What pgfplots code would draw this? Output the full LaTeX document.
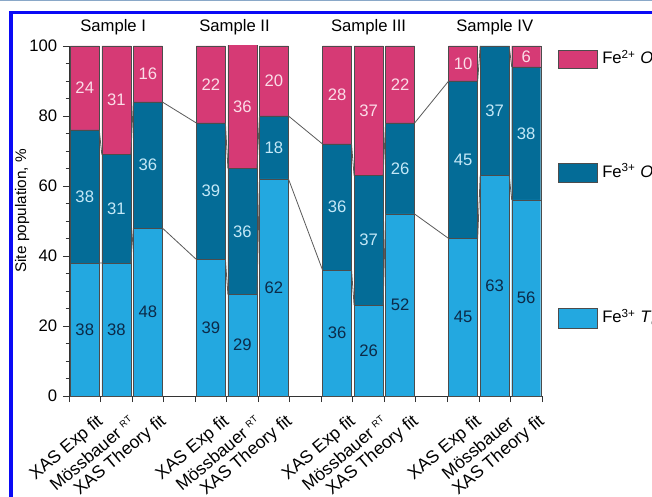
\documentclass[border=0pt]{standalone}
\usepackage{pgfplots}
\pgfplotsset{compat=1.18}
\usepackage{pgfplotstable}
\usepackage{fontspec}
\setmainfont{Liberation Sans}

\definecolor{feII}{HTML}{D63A75}
\definecolor{feIIIoh}{HTML}{046C97}
\definecolor{feIIItd}{HTML}{23A8E0}
\definecolor{labII}{HTML}{FBDDE8}
\definecolor{labIIIoh}{HTML}{C4E8F7}
\definecolor{labIIItd}{HTML}{0C2A48}
\definecolor{frameblue}{HTML}{0A0AF5}
\definecolor{topline}{HTML}{8AA8C8}

\newcommand{\rt}{\textsuperscript{\fontsize{7}{8}\selectfont RT}}

% site populations (%): tetrahedral Fe3+, octahedral Fe3+, octahedral Fe2+
\pgfplotstableread{
x  td oh fe
0  38 38 24
1  38 31 31
2  48 36 16
4  39 39 22
5  29 36 36
6  62 18 20
8  36 36 28
9  26 37 37
10 52 26 22
12 45 45 10
13 63 37 0
14 56 38 6
}\sites

\pgfplotsset{
  /pgf/number format/assume math mode=true,
  site axis/.style={
    scale only axis, width=354.75pt, height=262.5pt,
    at={(51.75pt,75pt)}, anchor=south west,
    xmin=-0.5, xmax=14.5, ymin=0, ymax=100,
  },
  seg/.style={draw=black!70, line width=0.3pt},
  conn/.style={black!65, line width=0.6pt, unbounded coords=jump},
  val/.style={draw=none, mark=none, point meta=explicit, nodes near coords,
    every node near coord/.append style={anchor=center, inner sep=0pt, text=#1}},
}

\begin{document}
\fontsize{12.5}{15}\selectfont
\begin{tikzpicture}
\useasboundingbox (0,0) rectangle (489pt,372pt);

\begin{axis}[site axis,
  ybar stacked, bar width=0.92,
  axis lines=left, axis line style={-, black!80, line width=0.6pt},
  tick align=outside,
  major tick length=4.5pt, minor tick length=2.5pt,
  tick style={black!80, line width=0.6pt},
  ytick={0,20,...,100}, minor y tick num=3,
  xtick={-0.5,0.5,...,14.5}, xticklabels={},
  extra x ticks={0,1,2,4,5,6,8,9,10,12,13,14},
  extra x tick labels={XAS Exp fit, Mössbauer~\rt, XAS Theory fit,
                       XAS Exp fit, Mössbauer~\rt, XAS Theory fit,
                       XAS Exp fit, Mössbauer~\rt, XAS Theory fit,
                       XAS Exp fit, Mössbauer, XAS Theory fit},
  extra x tick style={major tick length=0pt},
  % shifts first, so that they act in the page frame, then the rotation
  xticklabel style={anchor=east, inner sep=0pt, xshift=12.2pt, yshift=-17.5pt, rotate=40,
    font=\fontsize{13.2}{16}\selectfont},
  ylabel={Site population, \%},
  every axis y label/.style={at={(rel axis cs:-0.099,0.529)}, rotate=90, anchor=center,
    font=\fontsize{11.5}{14}\selectfont},
]
\addplot[seg, fill=feIIItd] table[x=x, y=td] {\sites};
\addplot[seg, fill=feIIIoh] table[x=x, y=oh] {\sites};
\addplot[seg, fill=feII]    table[x=x, y=fe] {\sites};
\end{axis}

\begin{axis}[site axis, hide axis, clip=false]
% connecting lines between neighbouring bars
\addplot[conn] coordinates {
  (0.46,38) (0.54,38) (0.6,nan)
  (1.46,38) (1.54,48) (1.6,nan)
  (2.46,48) (3.54,39) (3.6,nan)
  (4.46,39) (4.54,29) (4.6,nan)
  (5.46,29) (5.54,62) (5.6,nan)
  (6.46,62) (7.54,36) (7.6,nan)
  (8.46,36) (8.54,26) (8.6,nan)
  (9.46,26) (9.54,52) (9.6,nan)
  (10.46,52) (11.54,45) (11.6,nan)
  (12.46,45) (12.54,63) (12.6,nan)
  (13.46,63) (13.54,56)};
\addplot[conn] coordinates {
  (0.46,76) (0.54,69) (0.6,nan)
  (1.46,69) (1.54,84) (1.6,nan)
  (2.46,84) (3.54,78) (3.6,nan)
  (4.46,78) (4.54,65) (4.6,nan)
  (5.46,65) (5.54,80) (5.6,nan)
  (6.46,80) (7.54,72) (7.6,nan)
  (8.46,72) (8.54,63) (8.6,nan)
  (9.46,63) (9.54,78) (9.6,nan)
  (10.46,78) (11.54,90) (11.6,nan)
  (12.46,90) (12.54,100) (12.6,nan)
  (13.46,100) (13.54,94)};

% segment values, centred in the visible part of each segment
\addplot[val=labIIItd] table[x=x, y expr=\thisrow{td}/2, meta=td] {\sites};
\addplot[val=labIIIoh] table[x=x, y expr=\thisrow{td}+\thisrow{oh}/2, meta=oh] {\sites};
\addplot[val=labII, restrict y to domain=0:100] table[x=x,
  y expr={\thisrow{fe}==0 ? 1000 : (\thisrow{td}+\thisrow{oh}+min(100,\thisrow{td}+\thisrow{oh}+\thisrow{fe}))/2},
  meta=fe] {\sites};

\node[anchor=base] at (axis cs:0.9,104.1) {Sample I};
\node[anchor=base] at (axis cs:4.75,104.1) {Sample II};
\node[anchor=base] at (axis cs:9,104.1) {Sample III};
\node[anchor=base] at (axis cs:13,104.1) {Sample IV};
\end{axis}

% legend
\draw[draw=black!70, line width=0.4pt, fill=feII] (418.5pt,321pt) rectangle (447.75pt,334.5pt);
\node[anchor=base west, inner sep=0pt] at (451.5pt,324pt) {Fe\textsuperscript{2+} \textit{O}\textsubscript{\textit{h}}};
\draw[draw=black!70, line width=0.4pt, fill=feIIIoh] (418.5pt,235.5pt) rectangle (447.75pt,249.75pt);
\node[anchor=base west, inner sep=0pt] at (451.5pt,238.9pt) {Fe\textsuperscript{3+} \textit{O}\textsubscript{\textit{h}}};
\draw[draw=black!70, line width=0.4pt, fill=feIIItd] (418.5pt,126pt) rectangle (447.75pt,141pt);
\node[anchor=base west, inner sep=0pt] at (451.5pt,129.75pt) {Fe\textsuperscript{3+} \textit{T}\textsubscript{\textit{d}}};

% page frame
\draw[topline, line width=1.2pt] (0,371.6pt) -- (489pt,371.6pt);
\draw[frameblue, line width=2.6pt] (8.25pt,-5pt) -- (8.25pt,362.6pt) -- (495pt,362.6pt);
\end{tikzpicture}
\end{document}
